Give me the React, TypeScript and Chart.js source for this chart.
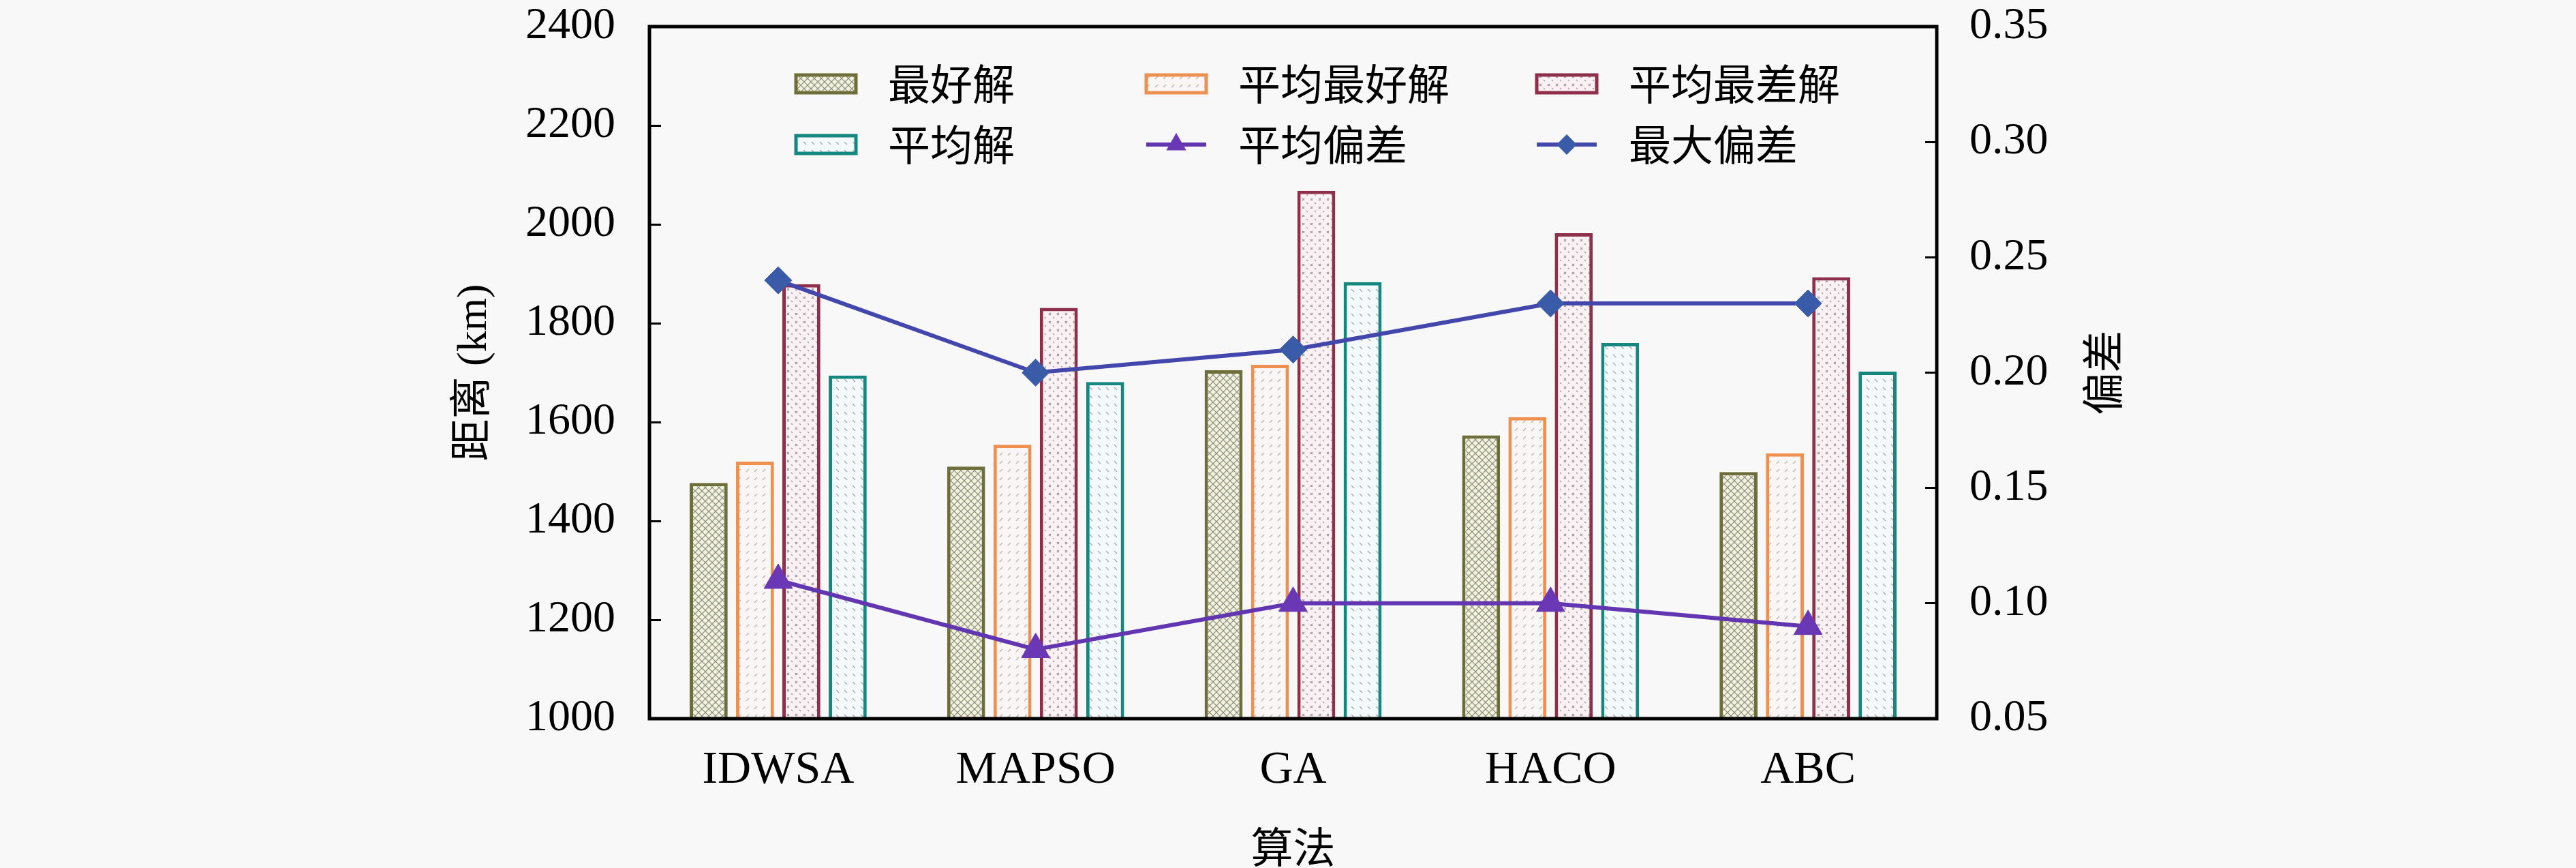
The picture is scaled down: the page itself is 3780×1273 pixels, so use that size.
import React, { useEffect, useRef } from "react";
import { Chart, registerables } from "chart.js";

Chart.register(...registerables);

// data
const algorithms = ["IDWSA", "MAPSO", "GA", "HACO", "ABC"];
const bestSolution = [1477, 1510, 1705, 1573, 1499];
const avgBestSolution = [1520, 1554, 1716, 1610, 1537];
const avgWorstSolution = [1879, 1831, 2068, 1982, 1893];
const avgSolution = [1694, 1681, 1883, 1760, 1702];
const avgDeviation = [0.11, 0.08, 0.1, 0.1, 0.09];
const maxDeviation = [0.24, 0.2, 0.21, 0.23, 0.23];

const seriesLabels = ["最好解", "平均最好解", "平均最差解", "平均解", "平均偏差", "最大偏差"];
const distanceRange = [1000, 2400, 200];
const deviationRange = [0.05, 0.35, 0.05];

const SERIF = '"Liberation Serif", "Noto Sans CJK SC", serif';
const CJK = '"Noto Sans CJK SC", "Liberation Serif", sans-serif';

// small tiled fills, roughly like the hatching in the figure
function makePattern(kind: string, bg: string, fg: string): CanvasPattern | string {
  const size = kind === "cross" ? 10 : 12;
  const c = document.createElement("canvas");
  c.width = size;
  c.height = size;
  const g = c.getContext("2d");
  if (!g) return bg;
  g.fillStyle = bg;
  g.fillRect(0, 0, size, size);
  g.strokeStyle = fg;
  g.fillStyle = fg;
  g.lineWidth = 1.2;
  g.beginPath();
  if (kind === "cross") {
    g.moveTo(0, 0);
    g.lineTo(size, size);
    g.moveTo(size, 0);
    g.lineTo(0, size);
  } else if (kind === "slash") {
    g.moveTo(3, 8);
    g.lineTo(7, 4);
  } else if (kind === "backslash") {
    g.moveTo(3, 4);
    g.lineTo(7, 8);
  } else if (kind === "dots") {
    g.moveTo(3, 3);
    g.lineTo(6, 6);
    g.moveTo(6, 3);
    g.lineTo(3, 6);
    g.moveTo(9, 9);
    g.lineTo(11, 11);
  }
  g.stroke();
  return g.createPattern(c, "repeat") || bg;
}

function drawMarker(ctx: CanvasRenderingContext2D, style: string, x: number, y: number, r: number) {
  ctx.beginPath();
  if (style === "triangle") {
    ctx.moveTo(x, y - r);
    ctx.lineTo(x + r * 0.866, y + r * 0.5);
    ctx.lineTo(x - r * 0.866, y + r * 0.5);
  } else {
    ctx.moveTo(x - r, y);
    ctx.lineTo(x, y - r);
    ctx.lineTo(x + r, y);
    ctx.lineTo(x, y + r);
  }
  ctx.closePath();
  ctx.fill();
}

// legend sitting inside the plot frame, 3 columns x 2 rows
const insideLegend = {
  id: "insideLegend",
  afterDraw(chart: any) {
    const { ctx, chartArea } = chart;
    const colX = [215, 729, 1302];
    const rowY = [84, 173];
    ctx.save();
    chart.data.datasets.forEach((ds: any, i: number) => {
      const x = chartArea.left + colX[i % 3];
      const y = chartArea.top + rowY[Math.floor(i / 3)];
      if (ds.type === "line") {
        ctx.strokeStyle = ds.borderColor;
        ctx.lineWidth = 6;
        ctx.beginPath();
        ctx.moveTo(x, y);
        ctx.lineTo(x + 88, y);
        ctx.stroke();
        ctx.fillStyle = ds.pointBackgroundColor;
        drawMarker(ctx, ds.pointStyle, x + 44, y, ds.pointStyle === "triangle" ? 17 : 15);
      } else {
        ctx.fillStyle = ds.backgroundColor;
        ctx.fillRect(x, y - 13, 88, 26);
        ctx.strokeStyle = ds.borderColor;
        ctx.lineWidth = 5;
        ctx.strokeRect(x, y - 13, 88, 26);
      }
      ctx.fillStyle = "#000";
      ctx.font = `62px ${CJK}`;
      ctx.textAlign = "left";
      ctx.textBaseline = "middle";
      ctx.fillText(ds.label, x + 135, y);
    });
    ctx.restore();
  },
};

// black box round the plot, and the right-hand title read bottom-to-top
const frame = {
  id: "frame",
  afterDraw(chart: any) {
    const { ctx, chartArea } = chart;
    ctx.save();
    ctx.strokeStyle = "#000";
    ctx.lineWidth = 5;
    ctx.strokeRect(chartArea.left, chartArea.top, chartArea.width, chartArea.height);
    const y1 = chart.scales.y1;
    ctx.translate(y1.left + 243, (chartArea.top + chartArea.bottom) / 2);
    ctx.rotate(-Math.PI / 2);
    ctx.fillStyle = "#000";
    ctx.font = `62px ${CJK}`;
    ctx.textAlign = "center";
    ctx.textBaseline = "middle";
    ctx.fillText("偏差", 0, 0);
    ctx.restore();
  },
};

const App: React.FC = () => {
  const chartRef = useRef<HTMLCanvasElement | null>(null);

  useEffect(() => {
    document.body.style.margin = "0";
    if (!chartRef.current) return;

    const barBase = { type: "bar" as const, borderWidth: 5, yAxisID: "y", order: 2 };
    const lineBase = {
      type: "line" as const,
      borderWidth: 6,
      yAxisID: "y1",
      order: 1,
      tension: 0,
      pointBorderWidth: 1,
    };

    const chartInstance = new Chart(chartRef.current, {
      type: "bar",
      data: {
        labels: algorithms,
        datasets: [
          {
            ...barBase,
            label: seriesLabels[0],
            data: bestSolution,
            borderColor: "#6e6e3a",
            backgroundColor: makePattern("cross", "#f3f3da", "#858585"),
          },
          {
            ...barBase,
            label: seriesLabels[1],
            data: avgBestSolution,
            borderColor: "#ee9050",
            backgroundColor: makePattern("slash", "#fbf6f6", "#b4b4b4"),
          },
          {
            ...barBase,
            label: seriesLabels[2],
            data: avgWorstSolution,
            borderColor: "#8e2f4c",
            backgroundColor: makePattern("dots", "#fbf1f5", "#9a9a9a"),
          },
          {
            ...barBase,
            label: seriesLabels[3],
            data: avgSolution,
            borderColor: "#14877e",
            backgroundColor: makePattern("backslash", "#f4fafb", "#a8a8a8"),
          },
          {
            ...lineBase,
            label: seriesLabels[4],
            data: avgDeviation,
            borderColor: "#6236b0",
            pointStyle: "triangle",
            pointRadius: 24,
            pointBackgroundColor: "#6a38b4",
            pointBorderColor: "#6a38b4",
          },
          {
            ...lineBase,
            label: seriesLabels[5],
            data: maxDeviation,
            borderColor: "#4346ab",
            pointStyle: "rectRot",
            pointRadius: 20,
            pointBackgroundColor: "#3a5ba8",
            pointBorderColor: "#3a5ba8",
          },
        ] as any,
      },
      options: {
        responsive: true,
        maintainAspectRatio: false,
        animation: false,
        devicePixelRatio: 1,
        layout: { padding: { top: 39, left: 0, right: 0, bottom: 0 } },
        datasets: { bar: { categoryPercentage: 0.72, barPercentage: 0.82 } },
        plugins: { legend: { display: false }, tooltip: { enabled: false } },
        scales: {
          x: {
            grid: { display: false, drawTicks: false },
            border: { display: false },
            ticks: { color: "#000", padding: 42, font: { family: SERIF, size: 68, lineHeight: 1 } },
            title: {
              display: true,
              text: "算法",
              color: "#000",
              padding: { top: 0, bottom: 0 },
              font: { family: CJK, size: 62, lineHeight: 1 },
            },
            afterFit: (scale: any) => {
              scale.height = 219;
            },
          },
          y: {
            position: "left",
            min: distanceRange[0],
            max: distanceRange[1],
            grid: { drawOnChartArea: false, drawTicks: true, tickLength: -17, tickWidth: 3, tickColor: "#000" },
            border: { display: false },
            ticks: {
              stepSize: distanceRange[2],
              color: "#000",
              padding: 67,
              font: { family: SERIF, size: 66, lineHeight: 1 },
              callback: (v: any) => String(v),
            },
            title: {
              display: true,
              text: "距离 (km)",
              color: "#000",
              padding: { top: 660, bottom: 0 },
              font: { family: SERIF, size: 62, lineHeight: 1.2 },
            },
            afterFit: (scale: any) => {
              scale.width = 953;
              scale.paddingTop = 0;
              scale.paddingBottom = 0;
            },
          },
          y1: {
            position: "right",
            min: deviationRange[0],
            max: deviationRange[1],
            grid: { drawOnChartArea: false, drawTicks: true, tickLength: -17, tickWidth: 3, tickColor: "#000" },
            border: { display: false },
            ticks: {
              stepSize: deviationRange[2],
              color: "#000",
              padding: 65,
              font: { family: SERIF, size: 66, lineHeight: 1 },
              callback: (v: any) => Number(v).toFixed(2),
            },
            afterFit: (scale: any) => {
              scale.width = 938;
              scale.paddingTop = 0;
              scale.paddingBottom = 0;
            },
          },
        },
      },
      plugins: [insideLegend, frame],
    });

    return () => {
      chartInstance.destroy();
    };
  }, []);

  return (
    <div style={{ width: 3780, height: 1273, position: "relative", background: "#f8f8f8" }}>
      <canvas ref={chartRef} />
    </div>
  );
};

export default App;
